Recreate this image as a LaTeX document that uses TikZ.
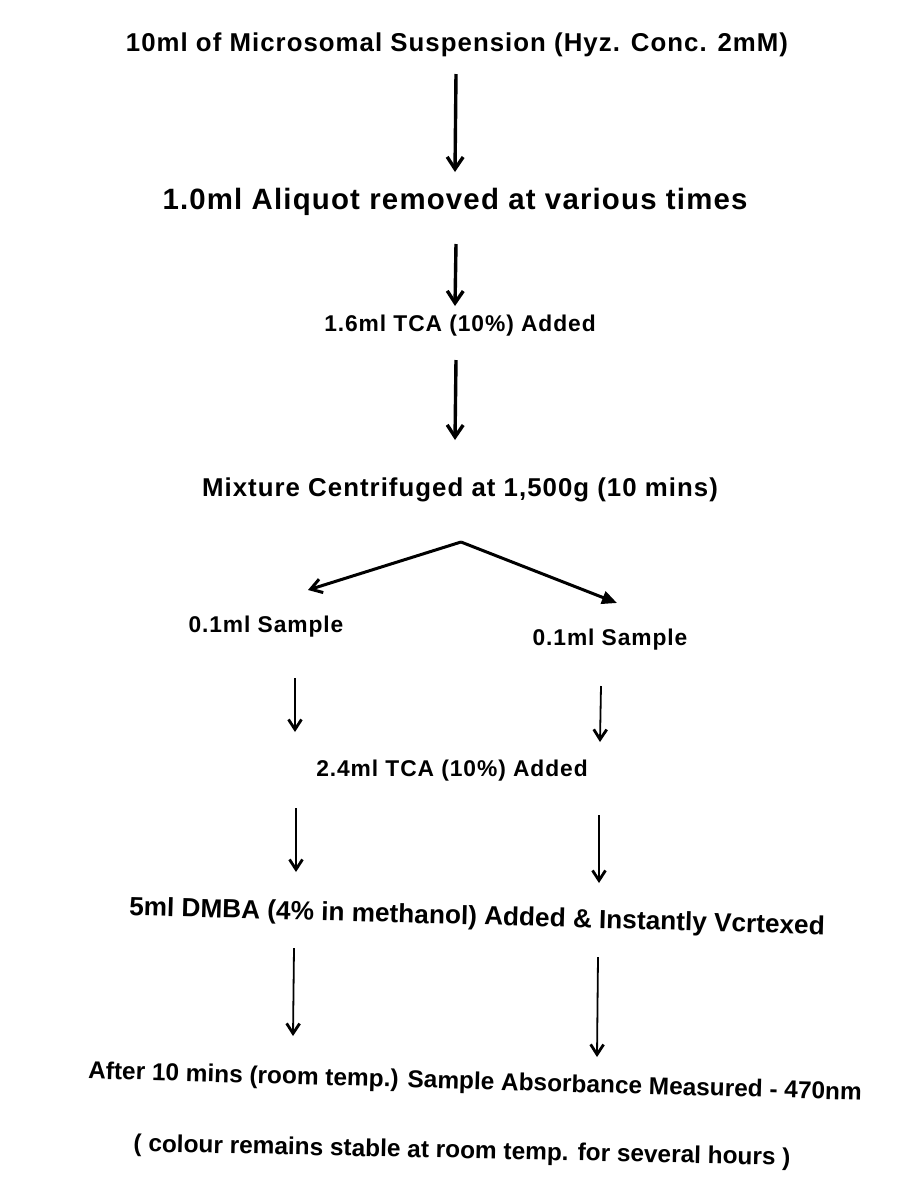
\documentclass[tikz,border=0pt]{standalone}
\usepackage{fontspec}
\setmainfont{Liberation Sans Bold}[LetterSpace=4]
\newfontfamily\plainbold{Liberation Sans Bold}
\usetikzlibrary{arrows.meta}
\begin{document}
\begin{tikzpicture}[x=1pt,y=-1pt,
  lbl/.style={inner sep=0pt,font=\fontsize{22.8}{25}\selectfont},
  big/.style={lbl,font=\fontsize{25.8}{28}\selectfont},
  tilt/.style={inner sep=0pt,font=\plainbold\fontsize{24.4}{27}\selectfont},
  thickarr/.style={line width=3.4pt,-{Straight Barb[length=12pt,width=16pt,line width=3.4pt]}},
  thinarr/.style={line width=1.8pt,-{Straight Barb[length=10pt,width=13pt,line width=2.8pt]}},
  filledarr/.style={line width=3pt,-{Triangle[length=15pt,width=13pt]}}]
\useasboundingbox (0,0) rectangle (907,1195);
\node[big] (t1) at (457,45) {10ml of Microsomal Suspension (Hyz. Conc. 2mM)};
\node[lbl,font=\fontsize{29.4}{32}\selectfont] (t2) at (455,202) {1.0ml Aliquot removed at various times};
\node[lbl] (t3) at (460,326) {1.6ml TCA (10\%) Added};
\node[big] (t4) at (460,490) {Mixture Centrifuged at 1,500g (10 mins)};
\node[lbl] (t5l) at (266,627) {0.1ml Sample};
\node[lbl] (t5r) at (610,640) {0.1ml Sample};
\node[lbl] (t6) at (452,771) {2.4ml TCA (10\%) Added};
\node[tilt,font=\plainbold\fontsize{26.2}{29}\selectfont,rotate=-1.6] (t7) at (477,918) {5ml DMBA (4\% in methanol) Added \& Instantly Vcrtexed};
\node[tilt,rotate=-1.6] (t8) at (475,1083) {After 10 mins (room temp.) Sample Absorbance Measured - 470nm};
\node[tilt,rotate=-1.2] (t9) at (462,1152) {( colour remains stable at room temp. for several hours )};
% arrow end points
\coordinate (a1s) at (456,74);   \coordinate (a1e) at (455,172);
\coordinate (a2s) at (456,244);  \coordinate (a2e) at (455,306);
\coordinate (a3s) at (456,360);  \coordinate (a3e) at (455,440);
\coordinate (apex) at (461,542);
\coordinate (bl) at (308,590);   \coordinate (br) at (617,603);
\coordinate (l1s) at (295,678);  \coordinate (l1e) at (295,732);
\coordinate (r1s) at (601,686);  \coordinate (r1e) at (600,742);
\coordinate (l2s) at (296,808);  \coordinate (l2e) at (296,872);
\coordinate (r2s) at (599,815);  \coordinate (r2e) at (599,883);
\coordinate (l3s) at (294,948);  \coordinate (l3e) at (293,1036);
\coordinate (r3s) at (598,957);  \coordinate (r3e) at (597,1057);
\draw[thickarr] (a1s) -- (a1e);
\draw[thickarr] (a2s) -- (a2e);
\draw[thickarr] (a3s) -- (a3e);
\draw[line width=3pt,-{Straight Barb[length=11pt,width=14pt,line width=3pt]}] (apex) -- (bl);
\draw[filledarr] (apex) -- (br);
\draw[thinarr] (l1s) -- (l1e);
\draw[thinarr] (r1s) -- (r1e);
\draw[thinarr] (l2s) -- (l2e);
\draw[thinarr] (r2s) -- (r2e);
\draw[thinarr] (l3s) -- (l3e);
\draw[thinarr] (r3s) -- (r3e);
\end{tikzpicture}
\end{document}
